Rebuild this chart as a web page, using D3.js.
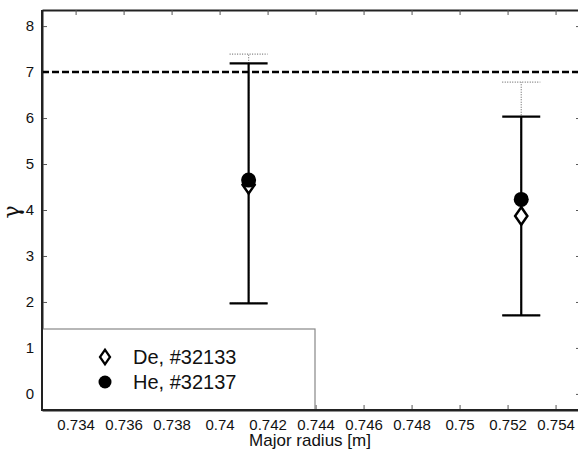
<!DOCTYPE html>
<html><head><meta charset="utf-8">
<script src="https://cdn.jsdelivr.net/npm/d3@7"></script>
<style>body{margin:0;background:#fff}svg{display:block;font-family:"Liberation Sans",Arial,sans-serif}</style>
</head><body><svg id="c" width="578" height="450"></svg>
<script>
const radius = [0.74121, 0.75257];
const deValue = [4.55, 3.87];
const deLow = [1.97, 1.71];
const deHigh = [7.39, 6.78];
const heValue = [4.65, 4.23];
const heLow = [1.97, 1.71];
const heHigh = [7.19, 6.03];
const thresholdGamma = 7;
const xTicks = [0.734,0.736,0.738,0.74,0.742,0.744,0.746,0.748,0.75,0.752,0.754];
const yTicks = [0,1,2,3,4,5,6,7,8];
const legendLabels = ["De, #32133","He, #32137"];

const svg = d3.select("#c");
const L=42, R=581, T=10, B=410;
const x = d3.scaleLinear().domain([0.7326,0.75506]).range([L,R]);
const y = d3.scaleLinear().domain([-0.35,8.35]).range([B,T]);
const fmt = d => String(+d.toFixed(3));

const gx = svg.append("g").attr("transform",`translate(0,${B})`)
  .call(d3.axisBottom(x).tickValues(xTicks).tickFormat(fmt).tickSizeInner(-5).tickSizeOuter(0).tickPadding(9));
const gxt = svg.append("g").attr("transform",`translate(0,${T})`)
  .call(d3.axisTop(x).tickValues(xTicks).tickFormat("").tickSizeInner(-5).tickSizeOuter(0));
const gy = svg.append("g").attr("transform",`translate(${L},0)`)
  .call(d3.axisLeft(y).tickValues(yTicks).tickSizeInner(-5).tickSizeOuter(0).tickPadding(8));
const gyr = svg.append("g").attr("transform",`translate(${R},0)`)
  .call(d3.axisRight(y).tickValues(yTicks).tickFormat("").tickSizeInner(-5).tickSizeOuter(0));
[gx,gxt,gy,gyr].forEach(g=>{
  g.select(".domain").attr("stroke","#222").attr("stroke-width",2);
  g.selectAll(".tick line").attr("stroke","#555").attr("stroke-width",1);
  g.selectAll("text").attr("font-size",15).attr("fill","#111").attr("font-family","Liberation Sans, Arial, sans-serif");
});

svg.append("line").attr("x1",L).attr("x2",R).attr("y1",y(thresholdGamma)).attr("y2",y(thresholdGamma))
  .attr("stroke","#000").attr("stroke-width",2.5).attr("stroke-dasharray","7,3");

const cap = 19;
function errBars(lo, hi, style){
  const g = svg.append("g");
  radius.forEach((r,i)=>{
    g.append("line").attr("x1",x(r)).attr("x2",x(r)).attr("y1",y(lo[i])).attr("y2",y(hi[i])).call(style);
    g.append("line").attr("x1",x(r)-cap).attr("x2",x(r)+cap).attr("y1",y(lo[i])).attr("y2",y(lo[i])).call(style);
    g.append("line").attr("x1",x(r)-cap).attr("x2",x(r)+cap).attr("y1",y(hi[i])).attr("y2",y(hi[i])).call(style);
  });
}
errBars(deLow, deHigh, s=>s.attr("stroke","#777").attr("stroke-width",1.2).attr("stroke-dasharray","1,1.5"));
errBars(heLow, heHigh, s=>s.attr("stroke","#000").attr("stroke-width",2.2));

const diamond = d3.symbol().type(d3.symbolDiamond).size(90);
svg.append("g").selectAll("path").data(radius).join("path")
  .attr("d",diamond).attr("transform",(d,i)=>`translate(${x(d)},${y(deValue[i])}) scale(1.2,1)`)
  .attr("fill","#fff").attr("stroke","#000").attr("stroke-width",2.2);
svg.append("g").selectAll("circle").data(radius).join("circle")
  .attr("cx",d=>x(d)).attr("cy",(d,i)=>y(heValue[i])).attr("r",7.5).attr("fill","#000");

const lg = svg.append("g");
lg.append("rect").attr("x",L).attr("y",329).attr("width",315-L).attr("height",B-329)
  .attr("fill","#fff").attr("stroke","#888").attr("stroke-width",1.2);
lg.append("path").attr("d",d3.symbol().type(d3.symbolDiamond).size(60))
  .attr("transform","translate(105,357) scale(1.2,1)").attr("fill","#fff").attr("stroke","#000").attr("stroke-width",2);
lg.append("circle").attr("cx",105).attr("cy",382).attr("r",6.5).attr("fill","#000");
legendLabels.forEach((t,i)=>{
  lg.append("text").attr("x",133).attr("y",364+i*25).attr("font-size",20).attr("fill","#111").text(t);
});
svg.append("line").attr("x1",L).attr("x2",L).attr("y1",T).attr("y2",B+1).attr("stroke","#222").attr("stroke-width",2);
svg.append("line").attr("x1",L).attr("x2",R).attr("y1",B).attr("y2",B).attr("stroke","#222").attr("stroke-width",2);

svg.append("text").attr("x",(42+578)/2).attr("y",446).attr("text-anchor","middle").attr("font-size",17).attr("fill","#111").text("Major radius [m]");
svg.append("text").attr("transform","translate(19,212) rotate(-90)").attr("text-anchor","middle").attr("font-size",22).attr("font-family","DejaVu Serif, serif").attr("fill","#111").text("γ");
</script></body></html>
